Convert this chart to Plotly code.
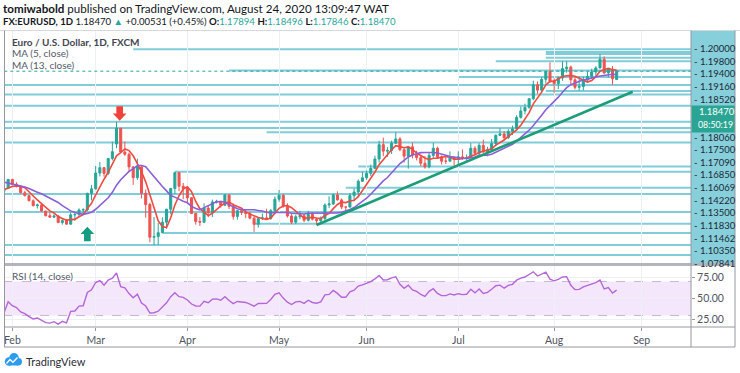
import numpy as np
import pandas as pd
import plotly.graph_objects as go

# ---------------- data ----------------
dates = pd.bdate_range("2020-01-02", "2020-08-24")

opens = [
    # Jan
    1.1213, 1.1172, 1.1160, 1.1195, 1.1152, 1.1105, 1.1106, 1.1121, 1.1133, 1.1128, 1.1150,
    1.1136, 1.1092, 1.1096, 1.1083, 1.1094, 1.1053, 1.1026, 1.1019, 1.1020, 1.1010, 1.1032,
    # Feb
    1.1093, 1.1060, 1.1044, 1.1000, 1.0980, 1.0944, 1.0910, 1.0915, 1.0873, 1.0840,
    1.0830, 1.0837, 1.0792, 1.0806, 1.0781, 1.0846, 1.0848, 1.0880, 1.0882, 1.0996,
    # Mar
    1.1027, 1.1137, 1.1175, 1.1135, 1.1239, 1.1340, 1.1450, 1.1284, 1.1268, 1.1180, 1.1105,
    1.1180, 1.0996, 1.0918, 1.0690, 1.0695, 1.0722, 1.0795, 1.0885, 1.1030, 1.1140, 1.1045,
    # Apr
    1.1030, 1.0965, 1.0856, 1.0800, 1.0795, 1.0893, 1.0860, 1.0936, 1.0940, 1.0913, 1.0985,
    1.0905, 1.0835, 1.0875, 1.0862, 1.0855, 1.0823, 1.0780, 1.0819, 1.0825, 1.0820, 1.0875,
    # May
    1.0955, 1.0983, 1.0906, 1.0838, 1.0795, 1.0833, 1.0840, 1.0808, 1.0850, 1.0816, 1.0805,
    1.0820, 1.0915, 1.0922, 1.0985, 1.0950, 1.0900, 1.0900, 1.0980, 1.1005, 1.1080,
    # Jun
    1.1104, 1.1135, 1.1170, 1.1235, 1.1335, 1.1290, 1.1295, 1.1345, 1.1375, 1.1300, 1.1255,
    1.1320, 1.1263, 1.1245, 1.1205, 1.1180, 1.1260, 1.1310, 1.1250, 1.1220, 1.1220, 1.1245,
    # Jul
    1.1232, 1.1250, 1.1240, 1.1245, 1.1310, 1.1275, 1.1330, 1.1285, 1.1300, 1.1343, 1.1400, 1.1410,
    1.1383, 1.1428, 1.1445, 1.1525, 1.1570, 1.1595, 1.1655, 1.1752, 1.1715, 1.1790, 1.1845,
    # Aug
    1.1778, 1.1760, 1.1800, 1.1865, 1.1875, 1.1787, 1.1735, 1.1740,
    1.1785, 1.1810, 1.1841, 1.1870, 1.1930, 1.1835, 1.1860, 1.17894,
]
highs = [
    1.1229, 1.1180, 1.1205, 1.1198, 1.1170, 1.1118, 1.1130, 1.1140, 1.1150, 1.1153, 1.1173,
    1.1143, 1.1100, 1.1108, 1.1105, 1.1106, 1.1060, 1.1034, 1.1032, 1.1032, 1.1042, 1.1096,
    1.1095, 1.1073, 1.1050, 1.1014, 1.0986, 1.0954, 1.0924, 1.0922, 1.0873, 1.0863,
    1.0850, 1.0845, 1.0815, 1.0815, 1.0863, 1.0868, 1.0891, 1.0892, 1.1000, 1.1053,
    1.1186, 1.1214, 1.1179, 1.1240, 1.1356, 1.1495, 1.1451, 1.1357, 1.1280, 1.1186, 1.1237,
    1.1190, 1.1023, 1.0930, 1.0831, 1.0790, 1.0829, 1.0888, 1.1034, 1.1147, 1.1145, 1.1068,
    1.1040, 1.0967, 1.0860, 1.0832, 1.0926, 1.0910, 1.0952, 1.0951, 1.0943, 1.0990, 1.0986,
    1.0926, 1.0879, 1.0888, 1.0886, 1.0868, 1.0834, 1.0827, 1.0855, 1.0888, 1.0887, 1.0973,
    1.1019, 1.0990, 1.0927, 1.0852, 1.0846, 1.0875, 1.0852, 1.0874, 1.0866, 1.0823, 1.0835,
    1.0926, 1.0975, 1.0994, 1.1009, 1.0960, 1.0905, 1.0997, 1.1030, 1.1092, 1.1147,
    1.1155, 1.1196, 1.1258, 1.1362, 1.1384, 1.1318, 1.1363, 1.1422, 1.1387, 1.1319, 1.1327,
    1.1349, 1.1292, 1.1257, 1.1256, 1.1280, 1.1349, 1.1321, 1.1260, 1.1247, 1.1288, 1.1253,
    1.1289, 1.1302, 1.1267, 1.1346, 1.1325, 1.1345, 1.1370, 1.1320, 1.1375, 1.1407, 1.1452, 1.1430,
    1.1443, 1.1468, 1.1540, 1.1601, 1.1621, 1.1660, 1.1781, 1.1775, 1.1806, 1.1849, 1.1908,
    1.1797, 1.1810, 1.1916, 1.1916, 1.1886, 1.1805, 1.1810, 1.1808,
    1.1845, 1.1864, 1.1882, 1.1966, 1.1951, 1.1867, 1.1883, 1.18496,
]
lows = [
    1.1163, 1.1128, 1.1148, 1.1135, 1.1091, 1.1085, 1.1085, 1.1110, 1.1116, 1.1125, 1.1128,
    1.1086, 1.1085, 1.1072, 1.1080, 1.1036, 1.1019, 1.1009, 1.1010, 1.0992, 1.1006, 1.1032,
    1.1050, 1.1037, 1.0996, 1.0973, 1.0941, 1.0905, 1.0890, 1.0869, 1.0835, 1.0827,
    1.0823, 1.0788, 1.0778, 1.0778, 1.0778, 1.0806, 1.0832, 1.0846, 1.0871, 1.0947,
    1.1021, 1.1114, 1.1112, 1.1123, 1.1225, 1.1310, 1.1283, 1.1257, 1.1144, 1.1055, 1.1090,
    1.0960, 1.0826, 1.0654, 1.0636, 1.0637, 1.0720, 1.0750, 1.0850, 1.0990, 1.1011, 1.0955,
    1.0925, 1.0853, 1.0778, 1.0769, 1.0789, 1.0830, 1.0830, 1.0925, 1.0896, 1.0906, 1.0887,
    1.0812, 1.0812, 1.0845, 1.0823, 1.0815, 1.0727, 1.0757, 1.0810, 1.0814, 1.0812, 1.0850,
    1.0937, 1.0895, 1.0827, 1.0782, 1.0784, 1.0815, 1.0795, 1.0800, 1.0807, 1.0775, 1.0784,
    1.0810, 1.0893, 1.0915, 1.0946, 1.0886, 1.0870, 1.0897, 1.0940, 1.0979, 1.1075,
    1.1090, 1.1116, 1.1165, 1.1210, 1.1255, 1.1250, 1.1270, 1.1340, 1.1290, 1.1210, 1.1168,
    1.1240, 1.1225, 1.1185, 1.1168, 1.1170, 1.1245, 1.1240, 1.1197, 1.1200, 1.1216, 1.1190,
    1.1200, 1.1230, 1.1220, 1.1240, 1.1260, 1.1262, 1.1278, 1.1254, 1.1300, 1.1327, 1.1395, 1.1370,
    1.1375, 1.1402, 1.1435, 1.1517, 1.1546, 1.1585, 1.1645, 1.1690, 1.1705, 1.1760, 1.1765,
    1.1696, 1.1723, 1.1780, 1.1837, 1.1754, 1.1720, 1.1710, 1.1713,
    1.1780, 1.1797, 1.1815, 1.1865, 1.1828, 1.1803, 1.1753, 1.17846,
]
closes = [
    1.1172, 1.1160, 1.1195, 1.1152, 1.1105, 1.1106, 1.1121, 1.1133, 1.1128, 1.1150, 1.1136,
    1.1092, 1.1096, 1.1083, 1.1094, 1.1053, 1.1026, 1.1019, 1.1020, 1.1010, 1.1032, 1.1093,
    1.1060, 1.1044, 1.1000, 1.0980, 1.0944, 1.0910, 1.0915, 1.0873, 1.0840, 1.0830,
    1.0837, 1.0792, 1.0806, 1.0781, 1.0846, 1.0848, 1.0880, 1.0882, 1.0996, 1.1027,
    1.1137, 1.1175, 1.1135, 1.1239, 1.1286, 1.1450, 1.1284, 1.1268, 1.1180, 1.1105, 1.1180,
    1.0996, 1.0918, 1.0690, 1.0695, 1.0722, 1.0795, 1.0885, 1.1030, 1.1140, 1.1045, 1.1030,
    1.0965, 1.0856, 1.0800, 1.0795, 1.0893, 1.0860, 1.0936, 1.0940, 1.0913, 1.0985, 1.0905,
    1.0835, 1.0875, 1.0862, 1.0855, 1.0823, 1.0780, 1.0819, 1.0825, 1.0820, 1.0875, 1.0955,
    1.0983, 1.0906, 1.0838, 1.0795, 1.0833, 1.0840, 1.0808, 1.0850, 1.0816, 1.0805, 1.0820,
    1.0915, 1.0922, 1.0985, 1.0950, 1.0900, 1.0900, 1.0980, 1.1005, 1.1080, 1.1104,
    1.1135, 1.1170, 1.1235, 1.1335, 1.1290, 1.1295, 1.1345, 1.1375, 1.1300, 1.1255, 1.1320,
    1.1263, 1.1245, 1.1205, 1.1180, 1.1260, 1.1310, 1.1250, 1.1220, 1.1220, 1.1245, 1.1232,
    1.1250, 1.1240, 1.1245, 1.1310, 1.1275, 1.1330, 1.1285, 1.1300, 1.1343, 1.1400, 1.1410, 1.1383,
    1.1428, 1.1445, 1.1525, 1.1570, 1.1595, 1.1655, 1.1752, 1.1715, 1.1790, 1.1845, 1.1778,
    1.1760, 1.1800, 1.1865, 1.1875, 1.1787, 1.1735, 1.1740, 1.1785,
    1.1810, 1.1841, 1.1870, 1.1930, 1.1835, 1.1860, 1.17939, 1.18470,
]

month_ticks = ["2020-02-03", "2020-03-02", "2020-04-01", "2020-05-01",
               "2020-06-01", "2020-07-01", "2020-08-03", "2020-09-01"]
month_labels = ["Feb", "Mar", "Apr", "May", "Jun", "Jul", "Aug", "Sep"]

# horizontal support / resistance levels (None = drawn across the whole chart)
level_prices = [1.20000, 1.19800, 1.19660, 1.19400, 1.19160, 1.18520, 1.18060, 1.17500,
                1.17090, 1.16850, 1.16069, 1.14950, 1.14510, 1.14220, 1.13500, 1.11830,
                1.11462, 1.10350, 1.09910, 1.08660, 1.07841, 1.07190, 1.06360, 1.05660]
level_starts = ["2020-03-13", "2020-07-30", "2020-07-30", "2020-07-30", "2020-07-14",
                "2020-04-15", "2020-07-01", None, "2020-07-30", None, None, None, None,
                "2020-04-28", None, "2020-05-28", "2020-03-27", "2020-05-25", None, None,
                "2020-04-23", "2020-03-24", None, None]
axis_labels = ["1.20000", "1.19800", "1.19400", "1.19160", "1.18520", "1.18060",
               "1.17500", "1.17090", "1.16850", "1.16069", "1.14220", "1.13500",
               "1.11830", "1.11462", "1.10350", "1.07841"]
last_price = 1.18470
countdown = "08:50:19"

trend_dates = ["2020-05-14", "2020-08-27 20:00"]
trend_prices = [1.0775, 1.1704]

arrow_dates = ["2020-03-09 18:00", "2020-02-27"]
arrow_prices = [1.1502, 1.0763]
arrow_dirs = ["down", "up"]
arrow_colors = ["#f0413a", "#149c80"]

rsi_ticks = [25, 50, 75]

# ---------------- indicators ----------------
c = np.array(closes, dtype=float)
ma5 = pd.Series(c).rolling(5).mean()
ma13 = pd.Series(c).rolling(13).mean()
n = 14
d = np.diff(c)
gain = np.where(d > 0, d, 0.0)
loss = np.where(d < 0, -d, 0.0)
ag = np.full(len(c), np.nan)
al = np.full(len(c), np.nan)
ag[n] = gain[:n].mean()
al[n] = loss[:n].mean()
for i in range(n + 1, len(c)):
    ag[i] = (ag[i - 1] * (n - 1) + gain[i - 1]) / n
    al[i] = (al[i - 1] * (n - 1) + loss[i - 1]) / n
rsi = 100 - 100 / (1 + ag / al)

# ---------------- geometry helpers ----------------
W, H = 740, 373
ML, MR, MT, MB = 4, 49, 31, 46
PW = W - ML - MR
PH = H - MT - MB


def px(x):
    return (x - ML) / PW


def py(y):
    return (H - MB - y) / PH


X_START, X_END = "2020-01-30", "2020-09-16 20:00"
FONT = "Lato"
TEAL = "#26a69a"
RED = "#ef5350"
LINE_C = "#80ccd9"
GRID = "#edf1f6"
BORDER = "#b2b5be"

fig = go.Figure()

fig.add_trace(go.Candlestick(
    x=dates, open=opens, high=highs, low=lows, close=closes,
    increasing=dict(line=dict(color=TEAL, width=1), fillcolor=TEAL),
    decreasing=dict(line=dict(color=RED, width=1), fillcolor=RED),
    whiskerwidth=0, showlegend=False, xaxis="x", yaxis="y", hoverinfo="skip"))
fig.add_trace(go.Scatter(x=dates, y=ma5, mode="lines", line=dict(color="#f04a40", width=1.6),
                         showlegend=False, xaxis="x", yaxis="y", hoverinfo="skip"))
fig.add_trace(go.Scatter(x=dates, y=ma13, mode="lines", line=dict(color="#8a5fd8", width=1.6),
                         showlegend=False, xaxis="x", yaxis="y", hoverinfo="skip"))
fig.add_trace(go.Scatter(x=trend_dates, y=trend_prices, mode="lines",
                         line=dict(color="#1d9c78", width=2.6),
                         showlegend=False, xaxis="x", yaxis="y", hoverinfo="skip"))
fig.add_trace(go.Scatter(x=dates, y=rsi, mode="lines", line=dict(color="#b565d8", width=1.4),
                         showlegend=False, xaxis="x2", yaxis="y2", hoverinfo="skip"))

shapes = []
# horizontal levels
for p, s in zip(level_prices, level_starts):
    shapes.append(dict(type="line", xref="x", yref="y", x0=s if s else "2020-01-20",
                       x1="2020-09-30", y0=p, y1=p, layer="below",
                       line=dict(color=LINE_C, width=2)))
# current price dotted line
shapes.append(dict(type="line", xref="x", yref="y", x0="2020-01-20", x1="2020-09-30",
                   y0=last_price, y1=last_price, line=dict(color=TEAL, width=1, dash="dot")))
# arrows
for dte, pr, dr, col in zip(arrow_dates, arrow_prices, arrow_dirs, arrow_colors):
    s = 1 if dr == "down" else -1
    path = ("M -3.3,{a} L 3.3,{a} L 3.3,{b} L 6.8,{b} L 0,0 L -6.8,{b} L -3.3,{b} Z"
            .format(a=14.5 * s, b=7.3 * s))
    shapes.append(dict(type="path", xref="x", yref="y", xsizemode="pixel", ysizemode="pixel",
                       xanchor=dte, yanchor=pr, path=path, fillcolor=col,
                       line=dict(color=col, width=0)))
# RSI band
shapes.append(dict(type="rect", xref="x2 domain", yref="y2", x0=0, x1=1, y0=30, y1=70,
                   fillcolor="#f4e7fb", line=dict(width=0), layer="below"))
for lv in (30, 70):
    shapes.append(dict(type="line", xref="x2 domain", yref="y2", x0=0, x1=1, y0=lv, y1=lv,
                       line=dict(color="#c9b6d3", width=1, dash="dash"), layer="below"))
# price-axis strip
shapes.append(dict(type="rect", xref="paper", yref="paper", x0=px(691), x1=px(735),
                   y0=py(263), y1=py(31), fillcolor="#86cfdb", line=dict(width=0)))
shapes.append(dict(type="rect", xref="paper", yref="paper", x0=px(691.5), x1=px(735),
                   y0=py(132.5), y1=py(105.5), fillcolor="#2aa593", line=dict(width=0)))


# frame / separators
def hline(y, x0=4, x1=735, w=1, col=BORDER):
    shapes.append(dict(type="line", xref="paper", yref="paper", x0=px(x0), x1=px(x1),
                       y0=py(y), y1=py(y), line=dict(color=col, width=w)))


def vline(x, y0=30.5, y1=347, w=1, col=BORDER):
    shapes.append(dict(type="line", xref="paper", yref="paper", x0=px(x), x1=px(x),
                       y0=py(y0), y1=py(y1), line=dict(color=col, width=w)))


hline(30.5, 0, 740, 1, "#d6d8de")
hline(264.5, w=3, col="#b2b5be")
hline(327, col="#9598a1")
hline(347, col="#9598a1")
vline(4.5, col="#9598a1")
vline(735, col="#9598a1")
vline(691, col="#9598a1")

# TradingView logo cloud
for cx, cy, r in [(9, 361.5, 4.3), (14, 357.8, 4.8), (18.3, 361.8, 3.7)]:
    shapes.append(dict(type="circle", xref="paper", yref="paper", x0=px(cx - r), x1=px(cx + r),
                       y0=py(cy + r), y1=py(cy - r), fillcolor="#2d9bf0", line=dict(width=0)))
shapes.append(dict(type="rect", xref="paper", yref="paper", x0=px(9), x1=px(18.3),
                   y0=py(365.5), y1=py(360), fillcolor="#2d9bf0", line=dict(width=0)))
zig = [(6.5, 363.5), (10, 359.5), (13, 362.3), (17.5, 357.5)]
shapes.append(dict(type="path", xref="paper", yref="paper",
                   path="M " + " L ".join("{:.5f},{:.5f}".format(px(a), py(b)) for a, b in zig),
                   line=dict(color="white", width=1.3)))

ann = []


def text(x, y, s, size=10, color="#131722", anchor="left", fam=FONT):
    ann.append(dict(x=px(x), y=py(y), xref="paper", yref="paper", text=s, showarrow=False,
                    xanchor=anchor, yanchor="middle", font=dict(family=fam, size=size, color=color)))


g = "#2aa69a"
text(1, 8, "<b>tomiwabold</b> published on TradingView.com, August 24, 2020 13:09:47 WAT", 11.6)
text(1, 22, ("<b>FX:EURUSD, 1D</b> 1.18470 <span style='color:%s'>▲</span> +0.00531 (+0.45%%) "
             "<b>O:</b><span style='color:%s'>1.17894</span> <b>H:</b><span style='color:%s'>1.18496</span> "
             "<b>L:</b><span style='color:%s'>1.17846</span> <b>C:</b><span style='color:%s'>1.18470</span>")
     % (g, g, g, g, g), 9.6)
text(10, 42, "<b>Euro / U.S. Dollar, 1D, FXCM</b>", 10, "#434651")
text(10, 53.5, "MA (5, close)", 10, "#555a66")
text(10, 64.5, "MA (13, close)", 10, "#555a66")
text(10, 276, "RSI (14, close)", 10, "#555a66")
text(24, 361, "TradingView", 11, "#2a2e39")

# axis labels on the price scale (spread out like TradingView does)
slots = axis_labels[:5] + [None, None] + axis_labels[5:]
for i, lab in enumerate(slots):
    yy = 48.6 + i * 12.63
    if lab is None:
        continue
    text(692, yy, "- " + lab, 9.5, "#1e2a36")
text(697, 48.6 + 5 * 12.63, "{:.5f}".format(last_price), 9.5, "white")
text(696, 48.6 + 6 * 12.63, countdown, 8.8, "white")

fig.update_layout(
    width=W, height=H, margin=dict(l=ML, r=MR, t=MT, b=MB),
    paper_bgcolor="white", plot_bgcolor="white", showlegend=False,
    font=dict(family=FONT, size=10, color="#555"),
    xaxis=dict(domain=[0, 1], anchor="y", range=[X_START, X_END], type="date",
               rangebreaks=[dict(bounds=["sat", "mon"])], rangeslider=dict(visible=False),
               tickvals=month_ticks, showticklabels=False, showgrid=True, gridcolor=GRID,
               zeroline=False, showline=False, ticks=""),
    yaxis=dict(domain=[py(263), 1], anchor="x", range=[1.05104, 1.21271], showgrid=False,
               showticklabels=False, zeroline=False, ticks="", side="right"),
    xaxis2=dict(domain=[0, 1], anchor="y2", range=[X_START, X_END], type="date",
                rangebreaks=[dict(bounds=["sat", "mon"])],
                tickvals=month_ticks, ticktext=month_labels, showgrid=True, gridcolor=GRID,
                ticks="outside", ticklen=3, tickcolor="#9598a1", zeroline=False, showline=False,
                tickfont=dict(family=FONT, size=10.5, color="#50535e")),
    yaxis2=dict(domain=[0, py(266)], anchor="x2", range=[16.39, 88.33], side="right",
                tickvals=rsi_ticks, ticktext=["%.2f" % v for v in rsi_ticks],
                ticks="outside", ticklen=3, tickcolor="#9598a1", showgrid=True, gridcolor=GRID,
                zeroline=False, showline=False,
                tickfont=dict(family=FONT, size=10.5, color="#50535e")),
    shapes=shapes, annotations=ann,
)

fig.write_html("out.html", config={"displayModeBar": False},
               post_script="document.body.style.margin='0';document.body.style.overflow='hidden';")
